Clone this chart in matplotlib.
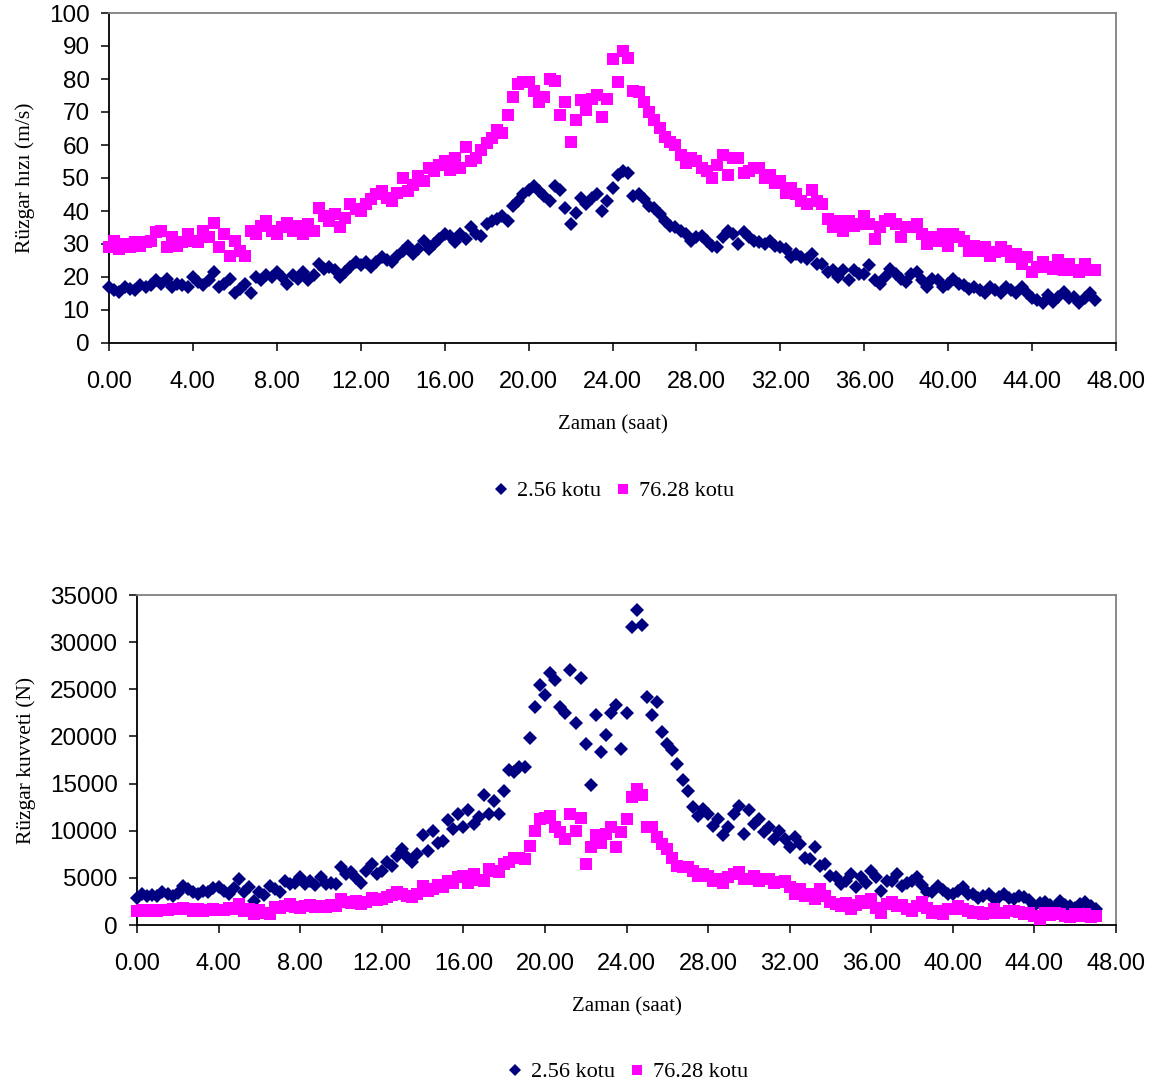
import numpy as np
import matplotlib
matplotlib.use("Agg")
import matplotlib.pyplot as plt
from matplotlib import font_manager
from matplotlib.lines import Line2D

# ---------------- data ----------------
step_h = 0.25
t_end = 47.0

speed_256 = [
    17, 16, 15.5, 17,  16.5, 16, 17.5, 17,  17.5, 19, 18, 19.5,  17, 18, 17.5, 17,
    20, 18.5, 17.5, 19,  21.5, 17, 18, 19.5,  15, 16.5, 18, 15,  20, 19, 20.5, 20,
    21.5, 20, 18, 20.5,  19.5, 21.5, 19, 20.5,  24, 22.5, 23, 22,  20, 21.5, 23, 24.5,
    23.5, 24.5, 23, 24.5,  26, 25, 24.5, 26.5,  28, 29.5, 27, 28.5,  31, 28.5, 30, 31.5,
    33, 32.5, 30.5, 33,  31.5, 35, 33, 32.5,  36, 37, 37.5, 38.5,  37, 41.5, 43, 45,
    46.5, 47.5, 46, 44.5,  43, 47.5, 46.5, 41,  36, 39.5, 44, 42,  44, 45, 40, 43,
    47, 51, 52, 51.5,  44.5, 45, 43.5, 41.5,  41, 39, 37, 35.5,  35, 34, 33, 31,
    32, 32.5, 31, 29.5,  29, 32, 34, 33,  30, 33.5, 32, 31,  30.5, 30, 31, 29.5,
    29, 28.5, 26, 27,  26, 25.5, 27, 24,  24, 21.5, 22, 20,  22, 19, 22, 21,
    21, 23.5, 19, 18,  20, 22.5, 21, 19.5,  18.5, 21, 21.5, 19,  17, 19.5, 19, 17,
    18, 19.5, 18, 17.5,  16.5, 17, 16, 15,  17, 16, 15, 17,  16, 15, 17, 15,
    13.5, 13, 12, 14.5,  12.5, 14, 15.5, 13.5,  14, 12, 13.5, 15,  13,
]

speed_7628 = [
    29, 31, 28.5, 30,  29, 30.5, 29.5, 30.5,  31, 33.5, 34, 29,  32, 29.5, 30.5, 33,
    31, 30.5, 34, 32,  36.5, 29, 33, 26.5,  31, 28, 26.5, 34,  33, 35.5, 37, 34,
    33, 35, 36.5, 34,  35.5, 33, 36, 34,  41, 38.5, 37, 39,  35, 38, 42, 40.5,
    40, 42, 43.5, 45,  46, 44, 43, 45.5,  50, 46, 48, 50.5,  49, 53, 52, 54,
    55, 52.5, 56, 53,  59.5, 55, 56, 58.5,  60.5, 62, 64.5, 63.5,  69, 74.5, 78.5, 79,
    79, 76.5, 73, 74.5,  80, 79.5, 69, 73,  61, 67.5, 73.5, 70.5,  74, 75, 68.5, 74,
    86, 79, 88.5, 86.5,  76.5, 76, 73, 70,  67.5, 65, 62.5, 61,  60, 57, 54.5, 56,
    55, 53, 52, 50,  54, 57, 51, 56,  56, 51.5, 52, 53,  53, 50, 51, 48.5,
    49, 45.5, 47, 45,  43, 42, 46.5, 43,  42, 37.5, 35, 37,  34, 37, 35.5, 36,
    38.5, 36, 31.5, 35,  37, 37.5, 36, 32,  35, 35, 36, 33,  30, 32, 31, 33,
    29.5, 33, 32, 31,  28, 29.5, 28, 29,  26.5, 27.5, 29, 28,  26, 27, 24, 26,
    21.5, 23, 24.5, 23,  22.5, 25, 22, 24,  22, 21.5, 24, 22,  22,
]

force_256 = [
    2900, 3250, 3100, 3200,  3100, 3450, 3300, 3100,  3400, 4150, 3800, 3500,  3250, 3600, 3450, 3900,
    4000, 3600, 3250, 3900,  4850, 3450, 4000, 2550,  3450, 3200, 4150, 3800,  3450, 4700, 4300, 4500,
    5050, 4350, 4700, 4200,  5050, 4350, 4500, 4400,  6100, 5400, 5600, 5000,  4500, 5750, 6450, 5400,
    5750, 6650, 6300, 7350,  8050, 7200, 6650, 7500,  9500, 7900, 10000, 8750,  8950, 11100, 10200, 11800,
    10350, 12150, 10700, 11500,  13750, 11800, 13200, 11800,  14250, 16400, 16200, 16750,  16750, 19800, 23150, 25450,
    24400, 26700, 26000, 23150,  22450, 27050, 21400, 26150,  19250, 14800, 22250, 18350,  20150, 22450, 23300, 18700,
    22450, 31650, 33450, 31850,  24200, 22250, 23700, 20500,  19250, 18550, 17100, 15350,  14250, 12500, 11600, 12300,
    11800, 10550, 11200, 9500,  10350, 11800, 12650, 9650,  12150, 10700, 11250, 9900,  10350, 9100, 10000, 9100,
    8250, 9300, 8600, 7150,  7000, 8250, 6300, 6450,  5200, 5050, 4350, 4700,  5400, 4000, 5050, 4500,
    5750, 5050, 3600, 4700,  4700, 5400, 4150, 4500,  4700, 5050, 4200, 3450,  3450, 4150, 3700, 3250,
    3250, 3600, 4000, 3250,  3250, 2900, 3100, 3250,  2750, 3000, 3250, 2900,  2750, 3100, 3000, 2600,
    2000, 2300, 2400, 2100,  1850, 2550, 2100, 2000,  1850, 2200, 2400, 2000,  1650,
]

force_7628 = [
    1500, 1600, 1450, 1550,  1500, 1600, 1550, 1650,  1700, 1800, 1750, 1500,  1650, 1500, 1600, 1750,
    1600, 1550, 1800, 1650,  2200, 1500, 1750, 1150,  1600, 1300, 1150, 1900,  1850, 2050, 2200, 1950,
    1850, 2000, 2150, 1900,  2050, 1900, 2100, 2000,  2750, 2400, 2300, 2500,  2200, 2450, 2900, 2650,
    2750, 3000, 3200, 3450,  3250, 3100, 3000, 3300,  4150, 3600, 3800, 4200,  4000, 4700, 4500, 5050,
    5200, 4500, 5400, 4800,  4700, 5950, 5750, 5600,  6450, 6700, 7150, 7150,  7000, 8400, 10000, 11250,
    11400, 11600, 10350, 9850,  9100, 11800, 10000, 11400,  6450, 8250, 9500, 8750,  9650, 10350, 8250, 9850,
    11250, 13550, 14450, 13750,  10350, 10350, 9300, 8600,  8050, 7150, 6300, 6100,  6100, 5750, 5200, 5400,
    5200, 4700, 4900, 4500,  5050, 5400, 5600, 4850,  4850, 5200, 4700, 4900,  4850, 4500, 4600, 4700,
    4000, 3250, 3800, 3100,  3250, 2750, 3800, 3100,  2400, 2200, 2000, 2300,  1650, 2100, 2550, 2300,
    2750, 1850, 1300, 2200,  2400, 2000, 2100, 1700,  1500, 2000, 2400, 1800,  1300, 1500, 1150, 1650,
    1650, 2000, 1700, 1500,  1300, 1400, 1150, 1300,  1650, 1300, 1300, 1500,  1500, 1350, 1150, 1300,
    1000, 600, 1300, 1100,  1300, 1150, 1000, 800,  1150, 1000, 1150, 900,  950,
]

time_h = np.arange(len(speed_256)) * step_h

series_names = ["2.56 kotu", "76.28 kotu"]
x_ticks = list(range(0, 49, 4))
x_tick_labels = [f"{v:.2f}" for v in x_ticks]
speed_ticks = list(range(0, 101, 10))
force_ticks = list(range(0, 35001, 5000))
x_title = "Zaman (saat)"
speed_title = "Rüzgar hızı (m/s)"
force_title = "Rüzgar kuvveti (N)"

# ---------------- style ----------------
NAVY = "#000080"
MAGENTA = "#FF00FF"
available = {f.name for f in font_manager.fontManager.ttflist}
def pick(*names):
    for n in names:
        if n in available:
            return n
    return "DejaVu Sans"
SANS = pick("Liberation Sans", "Arial", "DejaVu Sans")
NARROW = pick("Liberation Sans Narrow", "DejaVu Sans Condensed", "Liberation Sans")
SERIF = pick("Liberation Serif", "Times New Roman", "DejaVu Serif")

W, H = 1166, 1088
fig = plt.figure(figsize=(W / 100, H / 100), dpi=100)

def px_axes(left, top, right, bottom):
    return fig.add_axes([left / W, 1 - bottom / H, (right - left) / W, (bottom - top) / H])

ax1 = px_axes(109, 13, 1116, 343)
ax2 = px_axes(137, 595, 1116, 925)

def style(ax, yticks, ylim, ytitle):
    ax.set_xlim(0, 48)
    ax.set_ylim(*ylim)
    ax.set_xticks(x_ticks)
    ax.set_xticklabels(x_tick_labels, fontfamily=NARROW, fontsize=17)
    ax.set_yticks(yticks)
    ax.set_yticklabels([str(v) for v in yticks], fontfamily=SANS, fontsize=17.5)
    ax.tick_params(axis="both", direction="out", length=6, width=1.1, color="black")
    ax.tick_params(axis="x", pad=14)
    ax.tick_params(axis="y", pad=8)
    for s in ("left", "bottom"):
        ax.spines[s].set_color("black")
        ax.spines[s].set_linewidth(1.3)
    for s in ("top", "right"):
        ax.spines[s].set_color("#808080")
        ax.spines[s].set_linewidth(1.3)
    ax.set_xlabel(x_title, fontfamily=SERIF, fontsize=15, labelpad=16)
    ax.set_ylabel(ytitle, fontfamily=SERIF, fontsize=15.5, labelpad=10)

ms_d = 7.2
ms_s = 8.4
ax1.plot(time_h, speed_256, ls="none", marker="D", ms=ms_d, mfc=NAVY, mec=NAVY, mew=0, clip_on=False, zorder=3)
ax1.plot(time_h, speed_7628, ls="none", marker="s", ms=ms_s, mfc=MAGENTA, mec=MAGENTA, mew=0, clip_on=False, zorder=3)
ax2.plot(time_h, force_256, ls="none", marker="D", ms=ms_d, mfc=NAVY, mec=NAVY, mew=0, clip_on=False, zorder=3)
ax2.plot(time_h, force_7628, ls="none", marker="s", ms=ms_s, mfc=MAGENTA, mec=MAGENTA, mew=0, clip_on=False, zorder=3)

style(ax1, speed_ticks, (0, 100), speed_title)
style(ax2, force_ticks, (0, 35000), force_title)

handles = [
    Line2D([], [], ls="none", marker="D", ms=6.5, mfc=NAVY, mec=NAVY, mew=0),
    Line2D([], [], ls="none", marker="s", ms=7.5, mfc=MAGENTA, mec=MAGENTA, mew=0),
]
for cy, cx in ((491, 613), (1072, 627)):
    fig.legend(handles, series_names, loc="center", bbox_to_anchor=(cx / W, 1 - cy / H),
               ncol=2, frameon=False, prop={"family": SERIF, "size": 16},
               handlelength=0.8, handletextpad=0.3, columnspacing=0.6, borderpad=0)

fig.savefig("out.png", dpi=100, facecolor="white")
